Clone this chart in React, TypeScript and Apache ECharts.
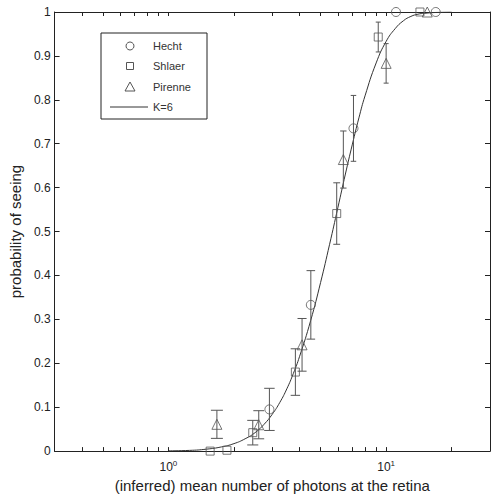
import React, { useEffect, useRef } from "react";
import * as echarts from "echarts";

// Hecht (circles): [x, probability, error]
const hechtX = [2.91, 4.51, 7.08, 11.1, 16.9];
const hechtY = [0.095, 0.333, 0.735, 1.0, 1.0];
const hechtErr = [0.048, 0.078, 0.075, 0, 0];

// Shlaer (squares)
const shlaerX = [1.555, 1.857, 2.44, 3.83, 5.93, 9.2, 14.3];
const shlaerY = [0.0, 0.002, 0.042, 0.18, 0.541, 0.943, 1.0];
const shlaerErr = [0, 0, 0.028, 0.053, 0.07, 0.034, 0];

// Pirenne (triangles)
const pirenneX = [1.67, 2.6, 4.11, 6.36, 10.0, 15.45];
const pirenneY = [0.061, 0.06, 0.242, 0.664, 0.883, 1.0];
const pirenneErr = [0.032, 0.032, 0.06, 0.065, 0.045, 0];

// K=6 curve
const curveX = [1, 1.25, 1.5, 1.75, 2, 2.25, 2.5, 2.75, 3, 3.25, 3.5, 3.75, 4, 4.5, 5, 5.5, 6, 6.5, 7, 7.5, 8, 9, 10, 11, 12, 13, 14, 15, 17, 20];
const curveY = [0.0006, 0.0016, 0.0045, 0.0095, 0.017, 0.028, 0.042, 0.061, 0.084, 0.111, 0.142, 0.177, 0.215, 0.297, 0.384, 0.471, 0.554, 0.631, 0.699, 0.759, 0.809, 0.884, 0.933, 0.962, 0.980, 0.990, 0.995, 0.997, 0.999, 1.0];

const xTicks = [0.3, 0.4, 0.5, 0.6, 0.7, 0.8, 0.9, 1, 2, 3, 4, 5, 6, 7, 8, 9, 10, 20, 30];
const xLabels = [1, 10];

const legendNames = ["Hecht", "Shlaer", "Pirenne", "K=6"];

const zip = (xs: number[], ys: number[]) => xs.map((x, i) => [x, ys[i]]);
const zip3 = (xs: number[], ys: number[], es: number[]) =>
  xs.map((x, i) => [x, ys[i], es[i]]).filter((d) => d[2] > 0);

const MARK = "#555";
const FONT = "Liberation Sans, Arial, sans-serif";

function errRender(params: any, api: any) {
  const x = api.value(0);
  const y = api.value(1);
  const e = api.value(2);
  const top = api.coord([x, y + e]);
  const bot = api.coord([x, y - e]);
  const hw = Math.max(2.5, 7 - 0.6 * x);
  const st = { stroke: MARK, lineWidth: 1 };
  return {
    type: "group",
    children: [
      { type: "line", shape: { x1: top[0], y1: top[1], x2: bot[0], y2: bot[1] }, style: st },
      { type: "line", shape: { x1: top[0] - hw, y1: top[1], x2: top[0] + hw, y2: top[1] }, style: st },
      { type: "line", shape: { x1: bot[0] - hw, y1: bot[1], x2: bot[0] + hw, y2: bot[1] }, style: st },
    ],
  };
}

function legendGraphic() {
  const bx = 101, by = 33, bw = 106, bh = 86;
  const cx = 130, tx = 153;
  const rows = [46, 66, 87, 107];
  const st = { stroke: MARK, lineWidth: 1, fill: "none" };
  const children: any[] = [
    { type: "rect", shape: { x: bx, y: by, width: bw, height: bh }, style: { stroke: "#222", lineWidth: 1, fill: "#fff" } },
    { type: "circle", shape: { cx, cy: rows[0], r: 4 }, style: st },
    { type: "rect", shape: { x: cx - 3.5, y: rows[1] - 3.5, width: 7, height: 7 }, style: st },
    { type: "polygon", shape: { points: [[cx, rows[2] - 5], [cx - 5, rows[2] + 4], [cx + 5, rows[2] + 4]] }, style: st },
    { type: "line", shape: { x1: 110, y1: rows[3], x2: 148, y2: rows[3] }, style: { stroke: "#333", lineWidth: 1 } },
  ];
  legendNames.forEach((n, i) => {
    children.push({
      type: "text",
      x: tx,
      y: rows[i],
      style: { text: n, fill: "#333", font: `11px ${FONT}`, textVerticalAlign: "middle", verticalAlign: "middle" },
    });
  });
  return { type: "group", z: 10, children };
}

export default function App() {
  const ref = useRef<HTMLDivElement>(null);
  useEffect(() => {
    if (!ref.current) return;
    const chart = echarts.init(ref.current, null, { renderer: "svg" });
    const axisLine = { show: true, onZero: false, lineStyle: { color: "#222", width: 1 } };
    const tickStyle = { color: "#222", width: 1 };
    const markerStyle = { color: "rgba(255,255,255,0)", borderColor: MARK, borderWidth: 1 };
    chart.setOption({
      animation: false,
      backgroundColor: "#fff",
      textStyle: { fontFamily: FONT },
      grid: { left: 50, right: 1, top: 12, bottom: 44 },
      graphic: [legendGraphic()],
      xAxis: [
        {
          type: "log",
          logBase: 10,
          min: 0.3,
          max: 30,
          position: "bottom",
          axisLine,
          axisTick: { show: true, inside: true, length: 4, lineStyle: tickStyle, customValues: xTicks },
          minorTick: { show: false },
          splitLine: { show: false },
          axisLabel: {
            customValues: xLabels,
            margin: 8,
            formatter: (v: number) => `{b|10}{s|${Math.round(Math.log10(v))}}`,
            rich: {
              b: { fontSize: 12, color: "#222", fontFamily: FONT },
              s: { fontSize: 8, color: "#222", fontFamily: FONT, verticalAlign: "top", padding: [0, 0, 8, 0] },
            },
          },
          name: "(inferred) mean number of photons at the retina",
          nameLocation: "middle",
          nameGap: 24,
          nameTextStyle: { fontSize: 15, color: "#222", fontFamily: FONT },
        },
        {
          type: "log",
          logBase: 10,
          min: 0.3,
          max: 30,
          position: "top",
          axisLine,
          axisTick: { show: true, inside: true, length: 4, lineStyle: tickStyle, customValues: xTicks },
          axisLabel: { show: false },
          splitLine: { show: false },
        },
      ],
      yAxis: [
        {
          type: "value",
          min: 0,
          max: 1,
          interval: 0.1,
          position: "left",
          axisLine,
          axisTick: { show: true, inside: true, length: 5, lineStyle: tickStyle },
          splitLine: { show: false },
          axisLabel: {
            fontSize: 12,
            color: "#222",
            margin: 4,
            fontFamily: FONT,
            formatter: (v: number) => (Math.round(v * 10) / 10).toString(),
          },
          name: "probability of seeing",
          nameLocation: "middle",
          nameGap: 29,
          nameTextStyle: { fontSize: 15, color: "#222", fontFamily: FONT },
        },
        {
          type: "value",
          min: 0,
          max: 1,
          interval: 0.1,
          position: "right",
          axisLine,
          axisTick: { show: true, inside: true, length: 5, lineStyle: tickStyle },
          splitLine: { show: false },
          axisLabel: { show: false },
        },
      ],
      series: [
        {
          name: "K=6",
          type: "line",
          data: zip(curveX, curveY),
          showSymbol: false,
          symbol: "none",
          smooth: true,
          lineStyle: { color: "#333", width: 1 },
          itemStyle: { color: "#333" },
          z: 2,
        },
        { type: "custom", renderItem: errRender, data: zip3(hechtX, hechtY, hechtErr), z: 3, silent: true },
        { type: "custom", renderItem: errRender, data: zip3(shlaerX, shlaerY, shlaerErr), z: 3, silent: true },
        { type: "custom", renderItem: errRender, data: zip3(pirenneX, pirenneY, pirenneErr), z: 3, silent: true },
        {
          name: "Hecht",
          type: "scatter",
          symbol: "circle",
          symbolSize: 9,
          data: zip(hechtX, hechtY),
          itemStyle: markerStyle,
          z: 4,
        },
        {
          name: "Shlaer",
          type: "scatter",
          symbol: "rect",
          symbolSize: 8,
          data: zip(shlaerX, shlaerY),
          itemStyle: markerStyle,
          z: 4,
        },
        {
          name: "Pirenne",
          type: "scatter",
          symbol: "triangle",
          symbolSize: 10,
          data: zip(pirenneX, pirenneY),
          itemStyle: markerStyle,
          z: 4,
        },
      ],
    });
    return () => chart.dispose();
  }, []);
  return (
    <div
      ref={ref}
      style={{ position: "fixed", left: 0, top: 0, width: 491, height: 498, background: "#fff" }}
    />
  );
}
